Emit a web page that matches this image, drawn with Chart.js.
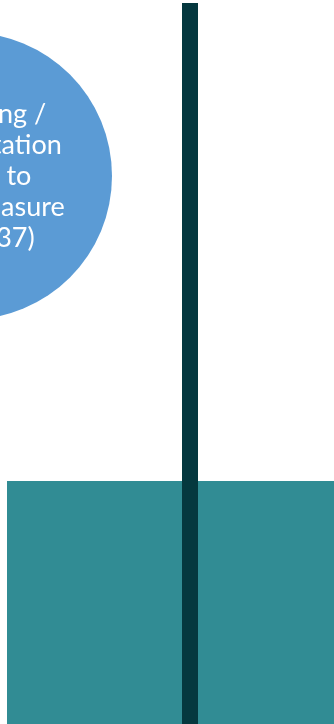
<!DOCTYPE html>
<html>
<head>
<meta charset="utf-8">
<script src="https://cdn.jsdelivr.net/npm/chart.js@4/dist/chart.umd.min.js"></script>
<style>
  html, body { margin: 0; padding: 0; background: #ffffff; overflow: hidden; }
  #c { display: block; }
</style>
</head>
<body>
<canvas id="c" width="334" height="724"></canvas>
<script>
// ---- data (diagram units: 1 unit = 1 px of the 334x724 view) ----
const circleCentre = [-31.5, 176];          // x, y of the blue node
const circleRadius = [143.5];               // node radius
const circleLabel = ["Fundraising /", "Implementation", "Inability to", "track & measure", "impact (37)"];
const dividerX = [190];                     // vertical connector
const dividerY = [3, 724];
const bandX = [7, 334];                     // teal block extent
const bandTop = [481];
const viewX = [0, 334];
const viewY = [0, 724];

const labelPlugin = {
  id: 'nodeLabel',
  afterDatasetsDraw(chart) {
    const el = chart.getDatasetMeta(0).data[0];
    if (!el) return;
    const ctx = chart.ctx;
    const lh = 31;
    ctx.save();
    ctx.fillStyle = '#ffffff';
    ctx.font = '27px Lato, "Open Sans", sans-serif';
    ctx.textAlign = 'center';
    ctx.textBaseline = 'middle';
    const n = circleLabel.length;
    circleLabel.forEach((t, i) => {
      ctx.fillText(t, el.x, el.y + (i - (n - 1) / 2) * lh);
    });
    ctx.restore();
  }
};

function draw() {
  new Chart(document.getElementById('c'), {
    type: 'scatter',
    data: {
      datasets: [
        {
          type: 'bubble',
          data: [{ x: circleCentre[0], y: circleCentre[1], r: circleRadius[0] }],
          backgroundColor: '#5B9BD5',
          borderWidth: 0,
          clip: false,
          order: 3
        },
        {
          type: 'line',
          data: [{ x: bandX[0], y: bandTop[0] }, { x: bandX[1], y: bandTop[0] }],
          borderWidth: 0,
          borderColor: 'rgba(0,0,0,0)',
          backgroundColor: '#318C94',
          pointRadius: 0,
          fill: { value: viewY[1] },
          order: 2
        },
        {
          type: 'line',
          data: [{ x: dividerX[0], y: dividerY[0] }, { x: dividerX[0], y: dividerY[1] }],
          borderWidth: 16,
          borderColor: '#05383F',
          borderCapStyle: 'butt',
          pointRadius: 0,
          fill: false,
          clip: false,
          order: 1
        }
      ]
    },
    options: {
      responsive: false,
      devicePixelRatio: 1,
      animation: false,
      events: [],
      layout: { padding: 0, autoPadding: false },
      plugins: { legend: { display: false }, tooltip: { enabled: false } },
      scales: {
        x: { type: 'linear', min: viewX[0], max: viewX[1], display: false },
        y: { type: 'linear', min: viewY[0], max: viewY[1], reverse: true, display: false }
      }
    },
    plugins: [labelPlugin]
  });
}

if (document.fonts && document.fonts.load) {
  document.fonts.load('27px Lato').then(draw, draw);
} else {
  draw();
}
</script>
</body>
</html>
